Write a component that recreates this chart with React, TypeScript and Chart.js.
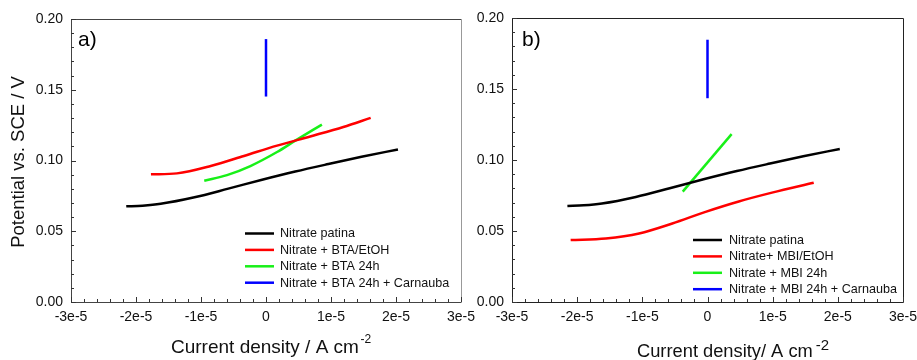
import React, { useEffect, useRef } from "react";
import { Chart, registerables } from "chart.js";

Chart.register(...registerables);

const FONT = '"Liberation Sans", Arial, Helvetica, sans-serif';

// ---------- axis ticks ----------
const xTickValues = [-3e-5, -2e-5, -1e-5, 0, 1e-5, 2e-5, 3e-5];
const xTickLabels = ["-3e-5", "-2e-5", "-1e-5", "0", "1e-5", "2e-5", "3e-5"];
const yTickValues = [0, 0.05, 0.1, 0.15, 0.2];
const yTickLabels = ["0.00", "0.05", "0.10", "0.15", "0.20"];

// ---------- series (x: A cm-2, y: V vs SCE) ----------
// Nitrate patina (both panels)
const patinaX = [-2.15e-5, -1.9e-5, -1.62e-5, -1.1e-5, -0.58e-5, -0.06e-5, 0.45e-5, 0.96e-5, 1.47e-5, 2.03e-5];
const patinaY = [0.0676, 0.0681, 0.0694, 0.074, 0.0801, 0.0864, 0.0922, 0.0975, 0.1026, 0.1078];

// Panel a
const btaEtohX = [-1.77e-5, -1.37e-5, -0.85e-5, -0.34e-5, 0.17e-5, 0.68e-5, 1.19e-5, 1.61e-5];
const btaEtohY = [0.0902, 0.0909, 0.0961, 0.1032, 0.1105, 0.117, 0.1237, 0.1301];
const bta24hX = [-0.95e-5, -0.6e-5, -0.24e-5, 0.17e-5, 0.45e-5, 0.86e-5];
const bta24hY = [0.0857, 0.0897, 0.0961, 0.106, 0.114, 0.1254];
const btaCarnaubaX = [0, 0];
const btaCarnaubaY = [0.1452, 0.1858];

// Panel b
const mbiEtohX = [-2.1e-5, -1.56e-5, -1.05e-5, -0.54e-5, -0.03e-5, 0.48e-5, 0.99e-5, 1.63e-5];
const mbiEtohY = [0.0436, 0.0448, 0.0483, 0.0553, 0.0635, 0.0708, 0.077, 0.084];
const mbi24hX = [-0.38e-5, 0.37e-5];
const mbi24hY = [0.0777, 0.1182];
const mbiCarnaubaX = [0, 0];
const mbiCarnaubaY = [0.1435, 0.1847];

// ---------- legend labels ----------
const labelsA = ["Nitrate patina", "Nitrate + BTA/EtOH", "Nitrate + BTA 24h", "Nitrate + BTA 24h + Carnauba"];
const labelsB = ["Nitrate patina", "Nitrate+ MBI/EtOH", "Nitrate + MBI 24h", "Nitrate + MBI 24h + Carnauba"];

const COLORS = ["#000000", "#ff0000", "#18f018", "#0000ff"];

function pts(xs: number[], ys: number[]) {
  return xs.map((x, i) => ({ x, y: ys[i] }));
}

function makeDataset(label: string, xs: number[], ys: number[], color: string, straight = false) {
  return {
    label,
    data: pts(xs, ys),
    borderColor: color,
    backgroundColor: color,
    borderWidth: 2.5,
    pointRadius: 0,
    pointHoverRadius: 0,
    showLine: true,
    fill: false,
    tension: straight ? 0 : 0.4,
    cubicInterpolationMode: straight ? "default" : "monotone",
  };
}

type PanelCfg = {
  left: number;
  width: number;
  padTop: number;
  padRight: number;
  yAxisWidth: number;
  panelLabel: string;
  labelX: number;
  labelY: number;
  frameColor: string;
  rightFrameColor: string;
  legendLineX: number;
  legendTextX: number;
  legendY: number;
  legendStep: number;
  yTitle?: { text: string; x: number; y: number; size: number };
  xTitle: { text: string; sup: string; x: number; y: number; size: number; supSize: number; supDy: number; supGap: number };
  datasets: any[];
};

const panelA: PanelCfg = {
  left: 0,
  width: 480,
  padTop: 19,
  padRight: 19,
  yAxisWidth: 71,
  panelLabel: "a)",
  labelX: 78,
  labelY: 46,
  frameColor: "#444",
  rightFrameColor: "#999",
  legendLineX: 245,
  legendTextX: 280,
  legendY: 233.5,
  legendStep: 16.4,
  yTitle: { text: "Potential vs. SCE / V", x: 19, y: 162, size: 18.5 },
  xTitle: { text: "Current density / A cm", sup: "-2", x: 171, y: 353, size: 19, supSize: 12, supDy: -10, supGap: 1.5 },
  datasets: [
    makeDataset(labelsA[0], patinaX, patinaY, COLORS[0]),
    makeDataset(labelsA[1], btaEtohX, btaEtohY, COLORS[1]),
    makeDataset(labelsA[2], bta24hX, bta24hY, COLORS[2]),
    makeDataset(labelsA[3], btaCarnaubaX, btaCarnaubaY, COLORS[3], true),
  ],
};

const panelB: PanelCfg = {
  left: 460,
  width: 457,
  padTop: 18,
  padRight: 14,
  yAxisWidth: 52,
  panelLabel: "b)",
  labelX: 62,
  labelY: 46,
  frameColor: "#222",
  rightFrameColor: "#222",
  legendLineX: 233,
  legendTextX: 269,
  legendY: 240,
  legendStep: 16.4,
  xTitle: { text: "Current density/ A cm", sup: "-2", x: 177, y: 357, size: 18.3, supSize: 15, supDy: -7, supGap: 3 },
  datasets: [
    makeDataset(labelsB[0], patinaX, patinaY, COLORS[0]),
    makeDataset(labelsB[1], mbiEtohX, mbiEtohY, COLORS[1]),
    makeDataset(labelsB[2], mbi24hX, mbi24hY, COLORS[2], true),
    makeDataset(labelsB[3], mbiCarnaubaX, mbiCarnaubaY, COLORS[3], true),
  ],
};

function decorPlugin(cfg: PanelCfg) {
  return {
    id: "decor",
    afterDraw(chart: any) {
      const ctx: CanvasRenderingContext2D = chart.ctx;
      const a = chart.chartArea;
      const xs = chart.scales.x;
      const ys = chart.scales.y;
      ctx.save();
      // frame
      ctx.lineWidth = 1;
      ctx.strokeStyle = cfg.frameColor;
      ctx.beginPath();
      ctx.moveTo(a.right + 0.5, a.top + 0.5);
      ctx.lineTo(a.left + 0.5, a.top + 0.5);
      ctx.lineTo(a.left + 0.5, a.bottom + 0.5);
      ctx.lineTo(a.right + 0.5, a.bottom + 0.5);
      ctx.stroke();
      ctx.strokeStyle = cfg.rightFrameColor;
      ctx.beginPath();
      ctx.moveTo(a.right + 0.5, a.top + 0.5);
      ctx.lineTo(a.right + 0.5, a.bottom + 0.5);
      ctx.stroke();

      // inward ticks
      ctx.strokeStyle = "#333";
      const nx = 30;
      for (let i = 0; i <= nx; i++) {
        const v = xs.min + (i * (xs.max - xs.min)) / nx;
        const px = Math.round(xs.getPixelForValue(v)) + 0.5;
        const len = i % 5 === 0 ? 5 : 3;
        ctx.beginPath();
        ctx.moveTo(px, a.bottom);
        ctx.lineTo(px, a.bottom - len);
        ctx.stroke();
      }
      const ny = 20;
      for (let i = 0; i <= ny; i++) {
        const v = ys.min + (i * (ys.max - ys.min)) / ny;
        const py = Math.round(ys.getPixelForValue(v)) + 0.5;
        const len = i % 5 === 0 ? 5 : 3;
        ctx.beginPath();
        ctx.moveTo(a.left, py);
        ctx.lineTo(a.left + len, py);
        ctx.stroke();
      }

      // panel label
      ctx.fillStyle = "#000";
      ctx.font = `21px ${FONT}`;
      ctx.textAlign = "left";
      ctx.textBaseline = "alphabetic";
      ctx.fillText(cfg.panelLabel, cfg.labelX, cfg.labelY);

      // legend
      ctx.font = `12.6px ${FONT}`;
      ctx.textBaseline = "middle";
      chart.data.datasets.forEach((ds: any, i: number) => {
        const y = cfg.legendY + i * cfg.legendStep;
        ctx.strokeStyle = ds.borderColor;
        ctx.lineWidth = 2.5;
        ctx.beginPath();
        ctx.moveTo(cfg.legendLineX, y);
        ctx.lineTo(cfg.legendLineX + 29, y);
        ctx.stroke();
        ctx.fillStyle = "#111";
        ctx.fillText(ds.label, cfg.legendTextX, y + 0.5);
      });

      // x title with superscript
      const t = cfg.xTitle;
      ctx.fillStyle = "#111";
      ctx.textBaseline = "alphabetic";
      ctx.font = `${t.size}px ${FONT}`;
      ctx.fillText(t.text, t.x, t.y);
      const w = ctx.measureText(t.text).width;
      ctx.font = `${t.supSize}px ${FONT}`;
      ctx.fillText(t.sup, t.x + w + t.supGap, t.y + t.supDy);

      // y title
      if (cfg.yTitle) {
        const yt = cfg.yTitle;
        ctx.translate(yt.x, yt.y);
        ctx.rotate(-Math.PI / 2);
        ctx.font = `${yt.size}px ${FONT}`;
        ctx.textAlign = "center";
        ctx.textBaseline = "middle";
        ctx.fillText(yt.text, 0, 0);
      }
      ctx.restore();
    },
  };
}

function Panel({ cfg }: { cfg: PanelCfg }) {
  const ref = useRef<HTMLCanvasElement>(null);
  useEffect(() => {
    const canvas = ref.current;
    if (!canvas) return;
    const chart = new Chart(canvas, {
      type: "scatter",
      data: { datasets: cfg.datasets },
      options: {
        animation: false,
        responsive: false,
        devicePixelRatio: 1,
        layout: { padding: { top: cfg.padTop, right: cfg.padRight, left: 0, bottom: 0 } },
        plugins: { legend: { display: false }, tooltip: { enabled: false } },
        events: [],
        scales: {
          x: {
            type: "linear",
            min: xTickValues[0],
            max: xTickValues[xTickValues.length - 1],
            grid: { display: false, drawTicks: false },
            border: { display: false },
            afterBuildTicks: (scale: any) => {
              scale.ticks = xTickValues.map((v) => ({ value: v }));
            },
            afterFit: (scale: any) => {
              scale.height = 58;
              scale.paddingLeft = 0;
              scale.paddingRight = 0;
            },
            ticks: {
              padding: 7,
              maxRotation: 0,
              autoSkip: false,
              color: "#111",
              font: { family: FONT, size: 14 },
              callback: (_v: any, i: number) => xTickLabels[i],
            },
          },
          y: {
            type: "linear",
            min: yTickValues[0],
            max: yTickValues[yTickValues.length - 1],
            grid: { display: false, drawTicks: false },
            border: { display: false },
            afterBuildTicks: (scale: any) => {
              scale.ticks = yTickValues.map((v) => ({ value: v }));
            },
            afterFit: (scale: any) => {
              scale.width = cfg.yAxisWidth;
              scale.paddingTop = 0;
              scale.paddingBottom = 0;
            },
            ticks: {
              padding: 8,
              autoSkip: false,
              color: "#111",
              font: { family: FONT, size: 14 },
              callback: (_v: any, i: number) => yTickLabels[i],
            },
          },
        },
      } as any,
      plugins: [decorPlugin(cfg)],
    });
    return () => chart.destroy();
  }, [cfg]);
  return (
    <canvas
      ref={ref}
      width={cfg.width}
      height={360}
      style={{ position: "absolute", left: cfg.left, top: 0, width: cfg.width, height: 360 }}
    />
  );
}

export default function App() {
  return (
    <div style={{ position: "absolute", left: 0, top: 0, width: 917, height: 360, background: "#fff", overflow: "hidden" }}>
      <Panel cfg={panelA} />
      <Panel cfg={panelB} />
    </div>
  );
}
